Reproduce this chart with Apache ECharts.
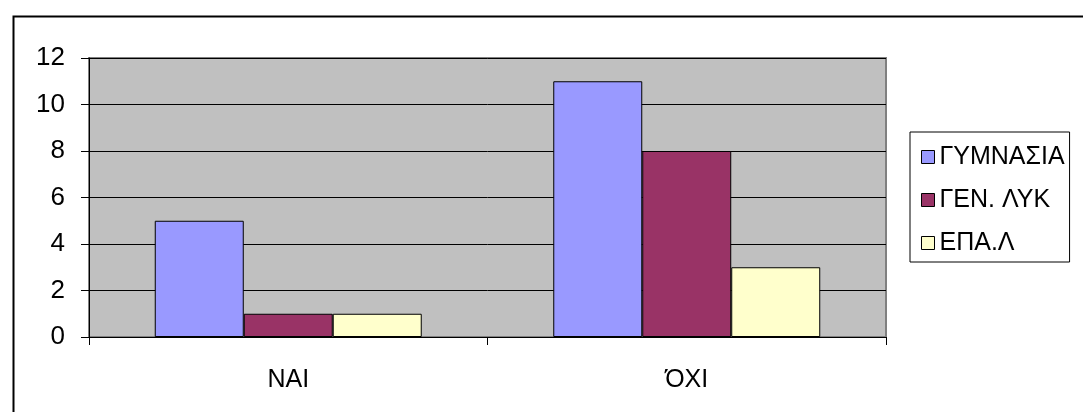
<!DOCTYPE html>
<html><head><meta charset="utf-8">
<script src="https://cdn.jsdelivr.net/npm/echarts@6/dist/echarts.min.js"></script>
<style>html,body{margin:0;padding:0;background:#fff}#c{width:1083px;height:412px}</style>
</head><body><div id="c"></div>
<script>
const categories = ['ΝΑΙ', 'ΌΧΙ'];
const seriesNames = ['ΓΥΜΝΑΣΙΑ', 'ΓΕΝ. ΛΥΚ', 'ΕΠΑ.Λ'];
const gymnasia = [5, 11];
const genLyk = [1, 8];
const epal = [1, 3];
const colors = ['#9999FF', '#993366', '#FFFFCC'];
const font = 'Liberation Sans, Arial, sans-serif';

const chart = echarts.init(document.getElementById('c'), null, {renderer: 'canvas'});
const values = [gymnasia, genLyk, epal];
chart.setOption({
  animation: false,
  backgroundColor: '#fff',
  graphic: [{
    type: 'rect', left: 11, top: 14, silent: true,
    shape: {width: 1100, height: 420},
    style: {fill: 'none', stroke: '#000', lineWidth: 2}
  }],
  grid: {
    left: 89, top: 58, right: 197, bottom: 75,
    show: true, backgroundColor: '#C0C0C0', borderColor: '#808080', borderWidth: 2
  },
  legend: {
    orient: 'vertical', left: 910, top: 132,
    padding: [12, 5, 6, 11], itemGap: 17,
    itemWidth: 13, itemHeight: 13, itemTextGap: 10, icon: 'rect',
    borderColor: '#000', borderWidth: 1, backgroundColor: '#fff',
    itemStyle: {borderColor: '#000', borderWidth: 1},
    textStyle: {fontFamily: font, fontSize: 25, color: '#000', lineHeight: 26},
    data: seriesNames
  },
  xAxis: {
    type: 'category', data: categories,
    axisLine: {lineStyle: {color: '#000', width: 1}},
    axisTick: {show: true, length: 8, alignWithLabel: false, lineStyle: {color: '#000'}},
    axisLabel: {fontFamily: font, fontSize: 25, color: '#000', margin: 31},
    splitLine: {show: false}
  },
  yAxis: {
    type: 'value', min: 0, max: 12, interval: 2,
    axisLine: {show: true, lineStyle: {color: '#000', width: 1}},
    axisTick: {show: true, length: 8, lineStyle: {color: '#000'}},
    axisLabel: {fontFamily: font, fontSize: 26, color: '#000', margin: 24},
    splitLine: {show: true, lineStyle: {color: '#000', width: 1}}
  },
  series: seriesNames.map((n, i) => ({
    name: n, type: 'bar', data: values[i],
    barGap: '0%', barCategoryGap: '33%',
    itemStyle: {color: colors[i], borderColor: '#000', borderWidth: 1}
  }))
});
</script></body></html>
